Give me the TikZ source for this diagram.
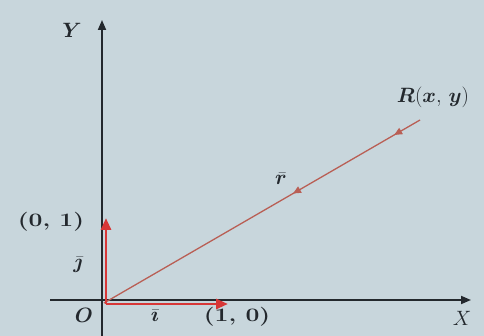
\documentclass[tikz,border=0pt]{standalone}
\usepackage{amsmath,amssymb,bm}
\usetikzlibrary{arrows.meta,decorations.markings}
\definecolor{paper}{RGB}{200,214,220}
\definecolor{ink}{RGB}{35,40,45}
\definecolor{vred}{RGB}{215,55,55}
\definecolor{rline}{RGB}{185,95,85}
\tikzset{
  axis/.style={draw=ink,line width=1.8pt,-{Triangle[length=10pt,width=8pt]}},
  unitvec/.style={draw=vred,line width=2.8pt,-{Triangle[length=12pt,width=10pt]}},
  lbl/.style={text=ink,font=\bfseries\fontsize{19}{21}\selectfont,inner sep=1pt},
  ilbl/.style={text=ink,font=\fontsize{20}{22}\selectfont,inner sep=1pt},
}
\newcommand{\wide}[1]{\scalebox{1.3}[1]{#1}}
\begin{document}
\begin{tikzpicture}[x=1pt,y=-1pt]
\fill[paper] (0,0) rectangle (484,336);
\useasboundingbox (0,0) rectangle (484,336);
\coordinate (O) at (104,303);
\coordinate (V) at (106,304);
\coordinate (Xs) at (50,300);
\coordinate (Xe) at (471,300);
\coordinate (Ys) at (102,336);
\coordinate (Ye) at (102,20);
\coordinate (J) at (106,218);
\coordinate (I) at (228,304);
\coordinate (R) at (420,120);
\draw[axis] (Xs) -- (Xe);
\draw[axis] (Ys) -- (Ye);
\draw[rline,line width=1.3pt,
  decoration={markings,
    mark=at position 0.62 with {\arrow{Triangle[length=8pt,width=7pt,reversed]}},
    mark=at position 0.94 with {\arrow{Triangle[length=8pt,width=7pt,reversed]}}},
  postaction={decorate}] (O) -- (R);
\draw[unitvec] (V) -- (J);
\draw[unitvec] (V) -- (I);
\node[ilbl] (ylab) at (72,30) {$\bm{Y}$};
\node[ilbl] (xlab) at (462,318) {$X$};
\node[ilbl] (olab) at (84,315) {$\bm{O}$};
\node[lbl] (p01) at (51,222) {\wide{(0, 1)}};
\node[lbl] (p10) at (237,317) {\wide{(1, 0)}};
\node[ilbl] (jlab) at (78,265) {$\bar{\bm{\jmath}}$};
\node[ilbl] (ilab) at (155,316) {$\bar{\bm{\imath}}$};
\node[ilbl] (rlab) at (281,179) {$\bar{\bm{r}}$};
\node[ilbl] (Rlab) at (433,97) {$\bm{R}(\bm{x},\,\bm{y})$};
\end{tikzpicture}
\end{document}
